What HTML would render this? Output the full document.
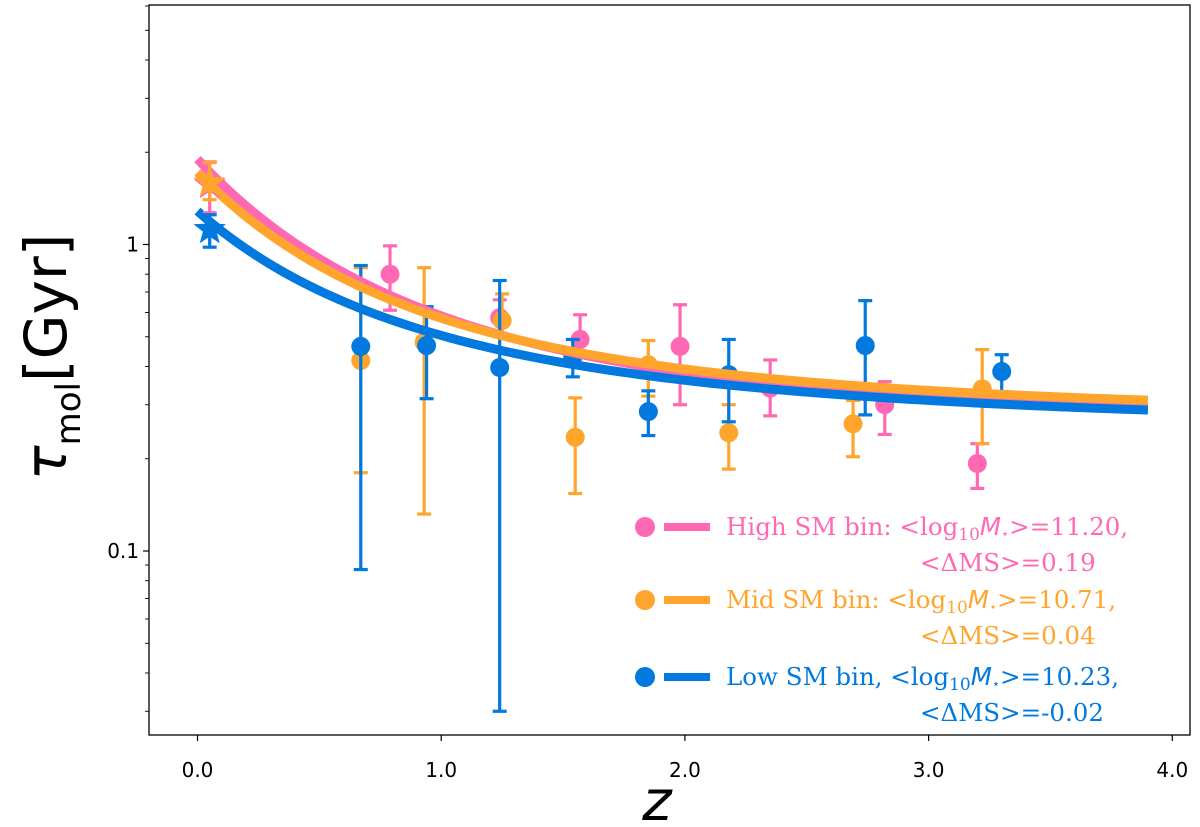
<!DOCTYPE html>
<html><head><meta charset="utf-8"><style>
html,body{margin:0;padding:0;background:#fff;}
svg{display:block;font-family:"DejaVu Sans","Liberation Sans",sans-serif;}
</style></head><body>
<svg id="chart" width="1200" height="827" viewBox="0 0 1200 827" xmlns="http://www.w3.org/2000/svg">
<rect x="0" y="0" width="1200" height="827" fill="#fff"/>
<g id="plot"></g>
<g id="axes"></g>
<g id="legend"></g>
</svg>
<script>
// ---- data ----
const seriesNames = ["high", "mid", "low"];
const seriesColors = ["#ff69b4", "#ffa52e", "#0279de"];
const starZ = [0.05, 0.05, 0.05];
const starTau = [1.57, 1.59, 1.12];
const starLo = [1.27, 1.40, 0.98];
const starHi = [1.86, 1.85, 1.25];
const highZ = [0.79, 1.24, 1.57, 1.98, 2.35, 2.82, 3.20];
const highTau = [0.80, 0.577, 0.49, 0.465, 0.34, 0.30, 0.193];
const highLo = [0.61, 0.50, 0.405, 0.30, 0.276, 0.24, 0.16];
const highHi = [0.99, 0.66, 0.59, 0.636, 0.42, 0.357, 0.224];
const midZ = [0.67, 0.93, 1.25, 1.55, 1.85, 2.18, 2.69, 3.22];
const midTau = [0.418, 0.48, 0.565, 0.235, 0.405, 0.243, 0.26, 0.338];
const midLo = [0.18, 0.132, 0.50, 0.154, 0.32, 0.185, 0.203, 0.224];
const midHi = [0.84, 0.84, 0.69, 0.316, 0.486, 0.30, 0.31, 0.454];
const lowZ = [0.67, 0.94, 1.24, 1.54, 1.85, 2.18, 2.74, 3.30];
const lowTau = [0.465, 0.468, 0.397, 0.43, 0.285, 0.376, 0.468, 0.385];
const lowLo = [0.087, 0.314, 0.030, 0.37, 0.238, 0.264, 0.278, 0.331];
const lowHi = [0.854, 0.627, 0.763, 0.49, 0.333, 0.49, 0.656, 0.437];
// fit curves: tau = fitC + fitA * (1+z)^(-fitK), drawn over z in [0, 3.9]
const fitA = [1.65, 1.45, 1.04];
const fitK = [2.30, 2.25, 2.00];
const fitC = [0.25, 0.27, 0.245];
const fitZmax = 3.9;
const xTicks = [0, 1, 2, 3, 4];
const xTickLabels = ["0.0", "1.0", "2.0", "3.0", "4.0"];
const yMajor = [0.1, 1];
const yMajorLabels = ["0.1", "1"];

// ---- axes ----
const L = 149, R = 1190, T = 5, B = 735;
const X0 = 197.5, XS = 243.7;
const Y1 = 244.5, DEC = 306.5;
function xp(z) { return X0 + XS * z; }
function yp(t) { return Y1 - DEC * Math.log10(t); }

const NS = "http://www.w3.org/2000/svg";
function mk(tag, attrs, parent) {
  const e = document.createElementNS(NS, tag);
  for (const k in attrs) e.setAttribute(k, attrs[k]);
  parent.appendChild(e);
  return e;
}
const plot = document.getElementById('plot');
const axes = document.getElementById('axes');
const legend = document.getElementById('legend');

function errbar(z, t, lo, hi, color, name) {
  const g = mk('g', {}, plot);
  
  
  const x = xp(z);
  mk('line', {x1: x, x2: x, y1: yp(lo), y2: yp(hi), stroke: color, 'stroke-width': 3.2}, g);
  mk('line', {x1: x - 7, x2: x + 7, y1: yp(lo), y2: yp(lo), stroke: color, 'stroke-width': 3.2}, g);
  mk('line', {x1: x - 7, x2: x + 7, y1: yp(hi), y2: yp(hi), stroke: color, 'stroke-width': 3.2}, g);
  return g;
}

function starPts(cx, cy, r) {
  const p = [];
  for (let i = 0; i < 10; i++) {
    const a = -Math.PI / 2 + i * Math.PI / 5;
    const rr = i % 2 ? r * 0.42 : r;
    p.push((cx + rr * Math.cos(a)).toFixed(1) + "," + (cy + rr * Math.sin(a)).toFixed(1));
  }
  return p.join(" ");
}

const seriesPts = [[highZ, highTau, highLo, highHi], [midZ, midTau, midLo, midHi], [lowZ, lowTau, lowLo, lowHi]];

for (let s = 0; s < 3; s++) {
  const c = seriesColors[s];
  const [zs, ts, los, his] = seriesPts[s];
  for (let i = 0; i < zs.length; i++) {
    const g = errbar(zs[i], ts[i], los[i], his[i], c, seriesNames[s] + '-point-' + i);
    const dot = mk('circle', {cx: xp(zs[i]), cy: yp(ts[i]), r: 9.5, fill: c}, g);
    
    
  }
}
for (let s = 0; s < 3; s++) {
  let d = "";
  const N = 120;
  for (let i = 0; i <= N; i++) {
    const z = fitZmax * i / N;
    const t = fitC[s] + fitA[s] * Math.pow(1 + z, -fitK[s]);
    d += (i ? " L" : "M") + xp(z).toFixed(2) + "," + yp(t).toFixed(2);
  }
  const p = mk('path', {d: d, fill: 'none', stroke: seriesColors[s], 'stroke-width': 9}, plot);
  
  
}
for (let s = 0; s < 3; s++) {
  errbar(starZ[s], starTau[s], starLo[s], starHi[s], seriesColors[s], seriesNames[s] + '-star-errorbar');
  const st = mk('polygon', {points: starPts(xp(starZ[s]), yp(starTau[s]), 17), fill: seriesColors[s]}, plot);
  
  
}

const frame = mk('rect', {x: L, y: T, width: R - L, height: B - T, fill: 'none', stroke: '#000', 'stroke-width': 1.3}, axes);


for (let i = 0; i < xTicks.length; i++) {
  const x = xp(xTicks[i]);
  mk('line', {x1: x, x2: x, y1: B, y2: B + 6, stroke: '#000', 'stroke-width': 1.2}, axes);
  const t = mk('text', {x: x, y: 777, 'text-anchor': 'middle', 'font-size': 20, fill: '#000'}, axes);
  t.textContent = xTickLabels[i];
  
  
}
for (let dec = -2; dec <= 0; dec++) {
  for (let m = 1; m <= 9; m++) {
    const v = m * Math.pow(10, dec);
    const y = yp(v);
    if (y < T || y > B) continue;
    mk('line', {x1: L - (m === 1 ? 6 : 4), x2: L, y1: y, y2: y, stroke: '#000', 'stroke-width': m === 1 ? 1.2 : 0.9}, axes);
  }
}
for (let i = 0; i < yMajor.length; i++) {
  const t = mk('text', {x: L - 10, y: yp(yMajor[i]) + 7, 'text-anchor': 'end', 'font-size': 20, fill: '#000'}, axes);
  t.textContent = yMajorLabels[i];
  
  
}
const xt = mk('text', {x: 657, y: 820, 'text-anchor': 'middle', 'font-size': 56, 'font-style': 'italic', fill: '#000'}, axes);
xt.textContent = 'z';


const yt = mk('text', {x: 0, y: 0, 'text-anchor': 'middle', 'font-size': 58, fill: '#000', transform: 'translate(66,357) rotate(-90)'}, axes);
yt.innerHTML = '<tspan font-style="italic">τ</tspan><tspan font-size="34" dy="14">mol</tspan><tspan dy="-14">[Gyr]</tspan>';



const legText = [
  ['High SM bin: <log', '>=11.20,', '<ΔMS>=0.19'],
  ['Mid SM bin: <log', '>=10.71,', '<ΔMS>=0.04'],
  ['Low SM bin, <log', '>=10.23,', '<ΔMS>=-0.02']
];
const legY = [527, 600, 677];
for (let s = 0; s < 3; s++) {
  const c = seriesColors[s], y = legY[s];
  const g = mk('g', {}, legend);
  
  
  mk('circle', {cx: 645, cy: y, r: 10, fill: c}, g);
  mk('line', {x1: 664, x2: 710, y1: y, y2: y, stroke: c, 'stroke-width': 8}, g);
  const t = mk('text', {x: 726, y: y + 8, 'font-size': 24.5, fill: c, 'font-family': '"DejaVu Serif","Liberation Serif",serif'}, g);
  t.innerHTML = legText[s][0].replace('<', '&lt;') + '<tspan font-size="17" dy="5">10</tspan><tspan dy="-5" font-style="italic" font-family="DejaVu Sans, sans-serif">M</tspan><tspan font-size="13" dy="3">⋆</tspan><tspan dy="-3">' + legText[s][1].replace('>', '&gt;') + '</tspan>';
  const t2 = mk('text', {x: 920, y: y + 44, 'font-size': 24.5, fill: c, 'font-family': '"DejaVu Serif","Liberation Serif",serif'}, g);
  t2.textContent = legText[s][2];
}
</script>
</body></html>
